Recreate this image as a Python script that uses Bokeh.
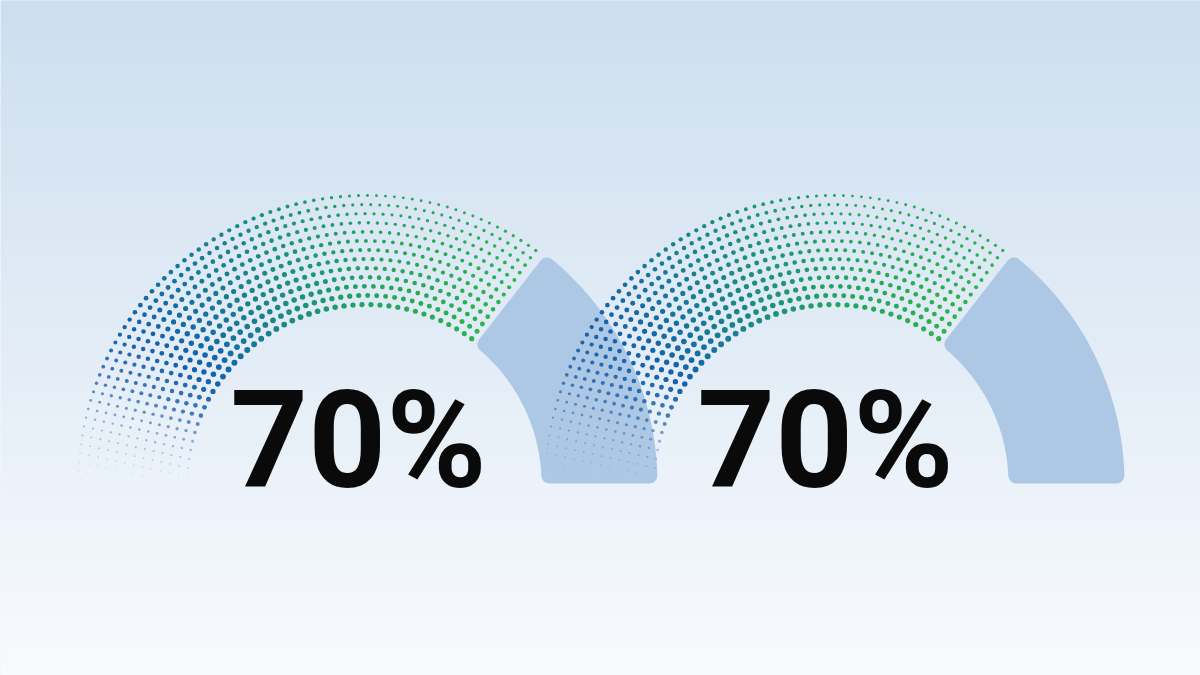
import numpy as np
from bokeh.plotting import figure
from bokeh.models import Range1d, ColumnDataSource
from bokeh.embed import file_html
from bokeh.resources import INLINE
from bokeh.core.properties import value

# ---------------- data ----------------
gauge_values = [70, 70]            # percent
gauge_labels = ["70%", "70%"]
gauge_centers_x = [366, 833]

# ---------------- geometry / style ----------------
W, H = 1200, 675
CY = H - 483          # centre line of both gauges (data, y up)
R_IN, R_OUT = 175, 291
ROW_R0, ROW_R1, N_ROWS = 179, 288, 13
DOT_STEP = 9.0
CORNER = 8
WEDGE_COLOR = "#adc8e4"
SIZE_SCALE = 1.2

p = figure(width=W, height=H, x_range=Range1d(0, W), y_range=Range1d(0, H),
           output_backend="svg", toolbar_location=None, min_border=0,
           styles={"position": "fixed", "left": "0px", "top": "0px"})
p.axis.visible = False
p.grid.visible = False
p.outline_line_color = None
p.background_fill_color = "#e6eef7"
p.border_fill_color = "#e6eef7"

# background vertical gradient
top_c = np.array([204, 222, 239])
bot_c = np.array([248, 250, 253])
band = 5
tops = np.arange(H, 0, -band)
bg_colors = []
for t in tops:
    f = (H - t + band / 2) / H
    c = top_c + (bot_c - top_c) * f
    bg_colors.append("#%02x%02x%02x" % tuple(int(round(v)) for v in c))
p.quad(left=0, right=W, top=tops + 1, bottom=tops - band - 1, fill_color=bg_colors,
       line_color=None)


def hexcol(rgb):
    return "#%02x%02x%02x" % tuple(int(round(v)) for v in rgb)


stop_deg = [54, 85, 105, 125, 145, 180]
stop_rgb = np.array([[44, 180, 78], [36, 166, 92], [28, 152, 114],
                     [24, 126, 146], [20, 98, 174], [24, 86, 170]])


def color_at(deg):
    return hexcol([np.interp(deg, stop_deg, stop_rgb[:, k]) for k in range(3)])


# remaining-part wedges (rounded annular sector)
for cx, v in zip(gauge_centers_x, gauge_values):
    th_split = np.pi * (1 - v / 100.0)
    th_e = th_split - 0.035
    ro, ri = R_OUT - CORNER, R_IN + CORNER
    a0o, a1o = np.arcsin(CORNER / ro), th_e - np.arcsin(CORNER / ro)
    a0i, a1i = np.arcsin(CORNER / ri), th_e - np.arcsin(CORNER / ri)
    ao = np.linspace(a0o, a1o, 80)
    ai = np.linspace(a1i, a0i, 80)
    xs = np.concatenate([cx + ro * np.cos(ao), cx + ri * np.cos(ai)])
    ys = np.concatenate([CY + ro * np.sin(ao), CY + ri * np.sin(ai)])
    p.patch(xs, ys, fill_color=WEDGE_COLOR, line_color=WEDGE_COLOR,
            line_width=2 * CORNER, line_join="round")

# dotted value arcs
for cx, v in zip(gauge_centers_x, gauge_values):
    th_split = np.pi * (1 - v / 100.0)
    X, Y, R, C, A = [], [], [], [], []
    for r in np.linspace(ROW_R0, ROW_R1, N_ROWS):
        step = DOT_STEP / r
        n = int(np.floor((np.pi - th_split) / step)) + 1
        th = th_split + np.arange(n) * step
        deg = np.degrees(th)
        t = (r - ROW_R0) / (ROW_R1 - ROW_R0)
        amp = np.interp(deg, [54, 90, 110, 140, 158, 168, 180],
                        [4.3, 4.3, 4.8, 5.0, 3.8, 2.2, 1.0])
        k = np.interp(deg, [54, 85, 110, 140, 180], [0.35, 0.47, 0.28, 0.2, 0.2])
        d = SIZE_SCALE * amp * (1 - k * t)
        alpha = np.interp(deg, [54, 148, 158, 168, 180], [1, 1, 0.8, 0.4, 0.08])
        X.extend(cx + r * np.cos(th))
        Y.extend(CY + r * np.sin(th))
        R.extend(d / 2)
        A.extend(alpha)
        C.extend(color_at(dg) for dg in deg)
    src = ColumnDataSource(dict(x=X, y=Y, r=R, c=C, a=A))
    p.circle(x="x", y="y", radius="r", fill_color="c", fill_alpha="a",
             line_color=None, source=src)

# labels
p.text(x=[cx - 8 for cx in gauge_centers_x], y=[H - 440] * len(gauge_labels),
       text=gauge_labels, text_font=value("Roboto"), text_font_style="bold",
       text_font_size="136px", text_align="center", text_baseline="alphabetic",
       text_color="#0a0a0a")

open("out.html", "w").write(file_html(p, INLINE))
